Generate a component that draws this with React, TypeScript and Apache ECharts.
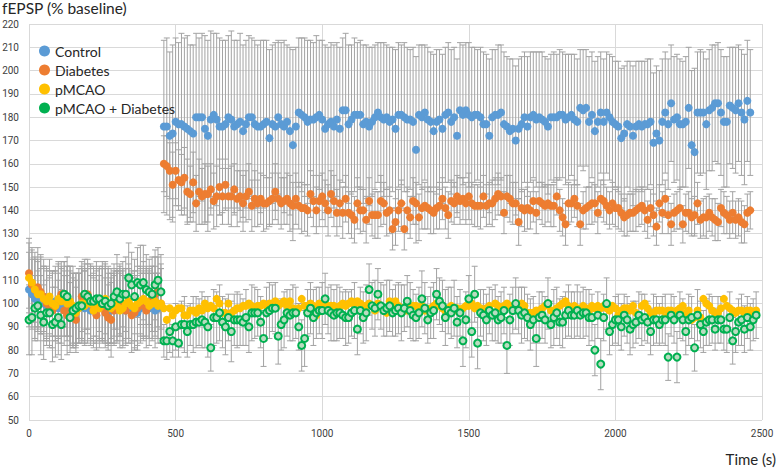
import React, { useEffect, useRef } from "react";
import * as echarts from "echarts";

// Sampling step of the recordings (s); index i is at time i * T_STEP
const T_STEP = 10;

const X_TICKS = [0, 500, 1000, 1500, 2000, 2500];
const Y_MIN = 50;
const Y_MAX = 220;

const SERIES_NAMES = ["Control", "Diabetes", "pMCAO", "pMCAO + Diabetes"];

const CONTROL = [
  106,104,102,103,101,100,99,98,100,101,
  98,99,100,101,99,98,97,99,100,98,
  99,97,98,99,100,101,99,98,97,98,
  99,100,98,97,99,98,97,96,98,99,
  100,98,99,97,98,99,
  176,176,172,173,178,177,177,176,175,174,
  173,180,180,180,175,172,179,181,179,176,
  176,177,180,179,176,177,178,174,177,180,
  180,177,176,176,177,178,171,177,176,180,
  177,176,178,174,168,176,182,181,180,178,
  179,179,180,181,179,175,177,178,176,179,
  175,183,183,177,179,181,181,181,177,178,
  176,178,180,182,180,179,180,178,179,175,
  181,181,180,179,179,178,166,181,180,182,
  179,178,174,178,179,175,181,182,178,180,
  172,183,181,183,181,180,181,181,180,177,
  177,172,180,181,181,182,177,176,174,175,
  170,175,177,180,176,180,181,179,180,179,
  178,176,180,180,180,181,181,179,180,181,
  179,178,184,183,184,178,181,174,178,182,
  178,182,180,178,177,176,171,173,177,176,
  172,176,177,176,177,177,178,169,173,170,
  178,182,177,186,179,180,177,177,178,184,
  168,165,182,182,182,177,183,184,186,186,
  182,178,178,185,184,183,186,182,179,187,
  182
];

const CONTROL_ERR = [
  16,15,17,15,14,16,15,16,14,15,
  15,16,14,15,17,15,16,14,15,16,
  16,15,14,16,15,17,16,15,14,15,
  15,14,16,15,16,15,17,16,15,14,
  15,16,14,16,15,16,
  37,38,36,38,36,35,39,38,40,37,
  38,36,34,36,40,41,38,35,37,38,
  37,36,35,38,37,36,38,37,36,35,
  34,36,35,37,36,35,38,34,36,33,
  35,37,33,36,41,34,32,33,34,35,
  34,33,35,32,34,36,33,34,35,33,
  35,31,33,34,32,33,31,32,34,33,
  34,32,31,30,32,33,31,32,31,34,
  31,30,32,31,30,32,40,30,31,29,
  31,30,33,31,30,32,29,30,31,30,
  33,29,30,29,31,30,29,28,30,31,
  30,33,29,28,30,29,31,30,31,30,
  32,30,29,28,30,28,27,29,28,29,
  28,29,27,28,27,28,27,28,27,26,
  28,27,25,26,25,28,27,30,28,26,
  27,26,27,28,27,28,30,29,27,28,
  30,28,27,28,27,28,27,30,29,30,
  27,26,28,25,27,27,28,27,28,26,
  32,36,26,27,26,28,26,27,25,26,
  27,28,28,25,26,27,25,27,28,26,
  27
];

const DIABETES = [
  113,108,106,107,105,103,100,98,97,99,
  101,104,97,95,98,96,93,99,103,100,
  104,100,97,95,98,99,96,94,93,97,
  99,101,98,97,100,95,96,98,101,99,
  97,100,102,104,105,100,
  160,159,157,151,157,153,152,154,148,147,
  152,143,148,146,147,147,149,144,146,150,
  146,151,146,146,149,145,146,143,146,148,
  142,145,143,145,143,143,144,145,148,145,
  143,144,145,143,142,145,142,141,141,140,
  147,144,140,144,146,143,140,147,144,139,
  143,139,145,139,138,136,143,140,140,136,
  144,138,138,138,144,143,139,140,132,135,
  140,143,132,140,137,144,143,137,141,142,
  141,140,139,141,142,145,141,138,144,143,
  146,144,145,143,146,143,142,142,142,146,
  142,143,143,145,147,146,139,146,145,143,
  143,135,141,140,141,140,144,139,144,143,
  142,143,142,142,146,140,137,134,143,143,
  145,142,134,140,141,142,143,143,139,145,
  144,142,140,143,141,141,139,137,138,139,
  139,140,141,142,140,136,141,138,133,143,
  139,145,138,134,139,140,141,134,139,139,
  137,138,143,136,137,137,139,137,136,135,
  141,139,138,136,139,136,137,135,134,139,
  140
];

const DIABETES_ERR = [
  15,16,14,17,15,16,15,14,16,15,
  16,14,15,17,16,15,14,16,15,17,
  15,16,14,15,17,16,15,14,16,15,
  16,15,17,14,15,16,15,16,14,15,
  16,15,14,16,15,17,
  12,13,12,14,12,13,12,13,14,12,
  13,12,14,12,13,12,11,12,13,12,
  12,11,12,13,11,12,11,12,11,12,
  11,12,10,11,12,11,10,11,12,11,
  11,10,11,12,10,11,10,11,10,11,
  10,11,10,11,10,10,11,10,11,10,
  10,11,10,9,10,10,11,10,9,10,
  10,9,10,10,11,9,10,10,9,10,
  9,10,9,10,9,10,9,10,9,10,
  9,10,9,9,10,9,9,10,9,9,
  9,10,9,9,10,9,9,9,10,9,
  9,9,10,9,9,8,9,9,10,9,
  9,10,8,9,9,8,9,9,8,9,
  9,8,9,9,8,9,8,9,9,8,
  8,9,9,8,9,8,9,8,9,8,
  9,8,8,9,8,9,8,8,9,8,
  8,9,8,8,9,8,8,9,8,8,
  9,8,8,9,8,8,9,8,8,9,
  8,8,9,8,8,9,8,8,9,8,
  8,9,8,8,9,8,8,9,8,8,
  8
];

const PMCAO = [
  111,109,106,104,104,102,101,103,100,99,
  102,101,104,100,101,99,96,98,100,99,
  101,100,97,99,98,100,102,99,98,100,
  99,97,98,100,101,99,98,100,101,102,
  101,99,100,101,99,100,
  98,93,98,95,97,98,98,95,95,97,
  97,96,98,97,100,98,99,98,102,100,
  96,96,100,96,97,98,98,99,99,100,
  99,98,99,99,100,99,100,100,101,99,
  100,101,99,101,98,97,98,102,99,99,
  100,99,95,100,99,98,99,99,99,98,
  99,100,99,100,101,100,101,100,99,99,
  100,99,97,100,99,98,96,101,99,101,
  99,98,97,97,98,99,99,98,99,97,
  97,98,99,100,99,98,97,98,99,97,
  98,97,98,99,99,100,98,99,98,97,
  98,99,95,100,99,98,99,100,99,97,
  98,99,100,99,96,96,96,97,97,98,
  99,100,97,97,98,99,100,101,99,98,
  99,98,97,99,98,97,99,98,99,98,
  99,98,97,99,98,95,97,98,98,97,
  99,96,95,99,100,98,96,96,97,97,
  97,94,97,97,96,97,98,99,96,97,
  93,94,97,94,102,100,99,97,96,96,
  98,102,99,98,97,96,97,97,96,97,
  97,96,97
];

// error bars of pMCAO are only visible during the baseline period
const PMCAO_ERR = [
  15,14,16,15,17,14,15,16,14,15,
  16,15,14,16,15,17,14,15,16,15,
  14,15,16,15,14,16,15,17,15,14,
  15,16,14,15,16,15,14,16,15,16,
  15,14,16,15,14,15
];

const PMCAO_DIAB = [
  93,94,98,99,95,92,96,96,91,92,
  94,91,104,103,94,97,98,99,99,104,
  103,101,101,102,102,100,101,99,100,103,
  105,102,104,104,111,108,103,109,108,109,
  106,105,104,108,110,105,
  84,84,88,84,90,83,91,91,88,91,
  91,92,92,93,92,90,81,94,94,96,
  92,90,94,88,93,93,93,92,94,90,
  96,96,96,92,85,96,97,98,98,86,
  91,93,96,95,96,96,90,82,85,96,
  98,94,96,97,97,102,97,96,95,96,
  96,95,94,94,96,97,89,97,94,96,
  106,99,98,104,99,97,98,99,96,97,
  98,96,98,101,97,95,94,96,102,98,
  93,96,97,104,101,99,94,97,96,98,
  92,96,84,93,102,88,104,83,96,95,
  93,97,95,96,93,94,97,82,93,97,
  100,97,95,96,94,91,93,85,94,95,
  93,100,91,94,96,92,92,95,97,95,
  95,97,95,96,96,94,94,80,95,74,
  94,100,88,91,93,93,90,95,93,89,
  91,92,95,93,94,92,88,93,93,91,
  93,93,77,95,93,77,95,93,88,93,
  94,81,95,91,88,92,93,93,89,93,
  93,89,89,94,84,88,92,93,89,94,
  90,93,95
];

const PMCAO_DIAB_ERR = [
  15,16,14,15,17,16,14,15,16,15,
  16,15,14,17,15,16,15,14,16,15,
  14,16,15,16,14,15,17,16,15,14,
  16,15,14,16,15,14,16,15,17,16,
  15,14,16,15,14,16,
  7,8,9,7,10,6,10,12,11,9,
  12,11,10,12,11,13,10,12,11,12,
  11,12,10,13,11,12,11,10,12,11,
  12,11,10,11,12,11,12,10,11,12,
  11,12,10,11,12,11,10,11,12,10,
  11,12,11,10,12,11,10,12,11,12,
  11,10,12,11,10,12,11,10,11,12,
  11,10,12,11,10,11,12,11,10,11,
  11,12,10,11,12,11,10,11,12,11,
  10,11,12,11,10,11,12,10,11,12,
  11,10,11,12,10,11,12,11,10,11,
  11,10,11,12,10,11,10,12,11,10,
  11,10,12,11,10,11,10,12,11,10,
  10,11,10,12,11,10,11,10,11,10,
  10,11,10,11,10,12,10,11,10,11,
  10,11,10,9,10,11,10,9,10,11,
  10,9,10,11,10,9,10,11,10,9,
  10,11,10,9,10,11,10,9,10,11,
  9,10,11,10,9,10,11,10,9,10,
  10,9,10,11,10,9,10,11,10,9,
  10,9,10
];

const COLORS = ["#5b9bd5", "#ed7d31", "#ffc000", "#00b050"];
const BAR_COLOR = "#a3a3a3";
const LABEL_FONT = "'Liberation Sans Narrow', Roboto, sans-serif";
const TEXT_FONT = "Lato, 'Open Sans', sans-serif";

function points(vals: number[]) {
  return vals.map((v, i) => [i * T_STEP, v]);
}

function bars(vals: number[], errs: number[]) {
  return errs.map((e, i) => [i * T_STEP, vals[i] - e, vals[i] + e]);
}

function errorSeries(data: number[][]) {
  return {
    type: "custom",
    silent: true,
    z: 1,
    encode: { x: 0, y: [1, 2] },
    data,
    renderItem: (_params: any, api: any) => {
      const x = api.value(0);
      const lo = api.coord([x, api.value(1)]);
      const hi = api.coord([x, api.value(2)]);
      const hw = 3;
      const style = { stroke: BAR_COLOR, lineWidth: 1, fill: "none" };
      return {
        type: "group",
        children: [
          { type: "line", shape: { x1: lo[0], y1: lo[1], x2: hi[0], y2: hi[1] }, style },
          { type: "line", shape: { x1: lo[0] - hw, y1: lo[1], x2: lo[0] + hw, y2: lo[1] }, style },
          { type: "line", shape: { x1: hi[0] - hw, y1: hi[1], x2: hi[0] + hw, y2: hi[1] }, style },
        ],
      };
    },
  };
}

export default function App() {
  const ref = useRef<HTMLDivElement>(null);

  useEffect(() => {
    document.body.style.margin = "0";
    if (!ref.current) return;
    const chart = echarts.init(ref.current, undefined, { renderer: "svg" });
    const values = [CONTROL, DIABETES, PMCAO, PMCAO_DIAB];
    const errs = [CONTROL_ERR, DIABETES_ERR, PMCAO_ERR, PMCAO_DIAB_ERR];

    const scatter = values.map((vals, k) => ({
      name: SERIES_NAMES[k],
      type: "scatter",
      z: 3,
      symbol: "circle",
      symbolSize: k === 3 ? 7 : 8,
      data: points(vals),
      itemStyle:
        k === 3
          ? { color: "#b9dcc0", borderColor: COLORS[3], borderWidth: 2, opacity: 1 }
          : { color: COLORS[k], opacity: 1 },
      emphasis: { disabled: true },
    }));

    chart.setOption({
      animation: false,
      backgroundColor: "#ffffff",
      grid: {
        left: 29,
        right: 16,
        top: 24,
        bottom: 50,
        containLabel: false,
        outerBoundsMode: "none",
      },
      legend: {
        orient: "vertical",
        left: 34,
        top: 39,
        itemGap: 5,
        itemWidth: 11,
        itemHeight: 11,
        icon: "circle",
        textStyle: { fontFamily: TEXT_FONT, fontSize: 14, color: "#262626" },
        data: SERIES_NAMES.map((n, k) => ({
          name: n,
          itemStyle: { color: COLORS[k], borderWidth: 0 },
        })),
      },
      xAxis: {
        type: "value",
        min: X_TICKS[0],
        max: X_TICKS[X_TICKS.length - 1],
        interval: 500,
        axisLine: { show: false },
        axisTick: { show: false },
        splitLine: { show: true, lineStyle: { color: "#d9d9d9", width: 1 } },
        axisLabel: {
          fontFamily: LABEL_FONT,
          fontSize: 10,
          color: "#404040",
          margin: 8,
          formatter: (v: number) => String(v),
        },
      },
      yAxis: {
        type: "value",
        min: Y_MIN,
        max: Y_MAX,
        interval: 10,
        axisLine: { show: false },
        axisTick: { show: false },
        splitLine: { show: true, lineStyle: { color: "#d9d9d9", width: 1 } },
        axisLabel: {
          fontFamily: LABEL_FONT,
          fontSize: 10,
          color: "#404040",
          margin: 10,
          formatter: (v: number) => String(v),
        },
      },
      graphic: [
        {
          type: "text",
          left: 2,
          top: 0,
          style: { text: "fEPSP (% baseline)", font: `15.5px ${TEXT_FONT}`, fill: "#262626" },
        },
        {
          type: "text",
          right: 2,
          top: 451,
          style: { text: "Time (s)", font: `15px ${TEXT_FONT}`, fill: "#262626" },
        },
      ],
      series: [
        ...values.map((vals, k) => errorSeries(bars(vals, errs[k]))),
        ...scatter,
      ],
    });
    return () => chart.dispose();
  }, []);

  return <div ref={ref} style={{ width: 778, height: 470 }} />;
}
